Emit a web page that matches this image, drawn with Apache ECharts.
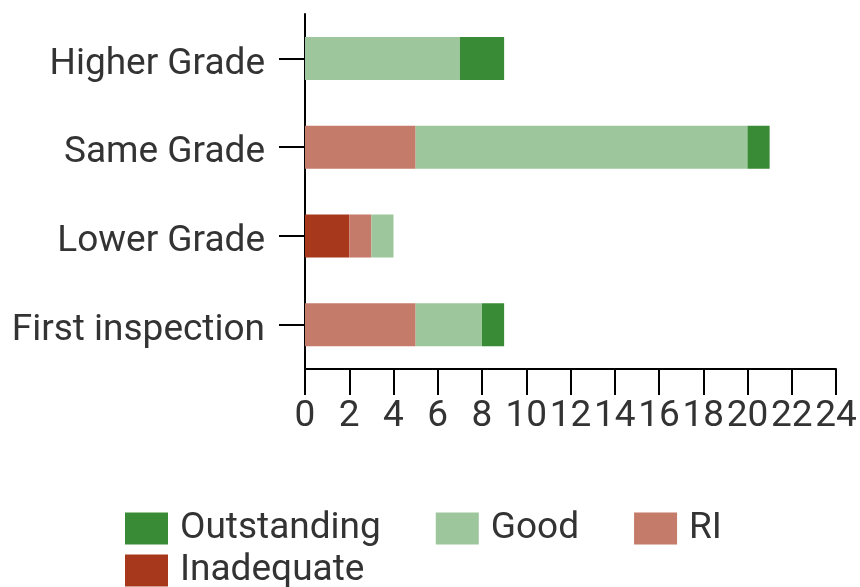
<!DOCTYPE html>
<html>
<head>
<meta charset="utf-8">
<script src="https://cdn.jsdelivr.net/npm/echarts@6/dist/echarts.min.js"></script>
<style>
  html, body { margin: 0; padding: 0; background: #fff; }
  #chart { width: 860px; height: 587px; }
</style>
</head>
<body>
<div id="chart"></div>
<script>
// categories top to bottom
const categories = ['Higher Grade', 'Same Grade', 'Lower Grade', 'First inspection']
const inadequate = [0, 0, 2, 0]
const ri = [0, 5, 1, 5]
const good = [7, 15, 1, 3]
const outstanding = [2, 1, 0, 1]
const xTicks = { min: 0, max: 24, interval: 2 }

const colors = {
  Outstanding: '#3a8b36',
  Good: '#9dc69d',
  RI: '#c57b69',
  Inadequate: '#a8381b'
}
const textColor = '#333'
const fontFamily = 'Roboto'

let myChart = echarts.init(document.getElementById('chart'))

function barSeries(name, data) {
  return {
    name: name,
    type: 'bar',
    stack: 'total',
    barWidth: 43,
    itemStyle: { color: colors[name] },
    data: data
  }
}

const legendCommon = {
  orient: 'horizontal',
  itemWidth: 43,
  itemHeight: 32,
  itemGap: 55,
  icon: 'rect',
  textStyle: { fontSize: 37, color: textColor, fontFamily: fontFamily, padding: [0, 0, 0, 7] }
}

myChart.setOption({
  animation: false,
  grid: {
    left: 305,
    right: 24,
    top: 14,
    bottom: 218,
    containLabel: false
  },
  legend: [
    Object.assign({ left: 120, top: 505, data: ['Outstanding', 'Good', 'RI'] }, legendCommon),
    Object.assign({ left: 120, top: 547, data: ['Inadequate'] }, legendCommon)
  ],
  xAxis: {
    type: 'value',
    min: xTicks.min,
    max: xTicks.max,
    interval: xTicks.interval,
    splitLine: { show: false },
    axisLine: { show: true, lineStyle: { color: '#000', width: 2 } },
    axisTick: { show: true, length: 26, lineStyle: { color: '#000', width: 2 } },
    axisLabel: { fontSize: 37, color: textColor, fontFamily: fontFamily, margin: 29 }
  },
  yAxis: {
    type: 'category',
    inverse: true,
    data: categories,
    axisLine: { show: true, lineStyle: { color: '#000', width: 2 } },
    axisTick: { show: true, length: 26, alignWithLabel: true, lineStyle: { color: '#000', width: 2 } },
    axisLabel: {
      margin: 40,
      formatter: function (v) { return '{c|' + v + '}' },
      rich: {
        c: { fontSize: 37, color: textColor, fontFamily: fontFamily, padding: [12, 0, 0, 0] }
      }
    }
  },
  series: [
    barSeries('Inadequate', inadequate),
    barSeries('RI', ri),
    barSeries('Good', good),
    barSeries('Outstanding', outstanding)
  ]
})
</script>
</body>
</html>
